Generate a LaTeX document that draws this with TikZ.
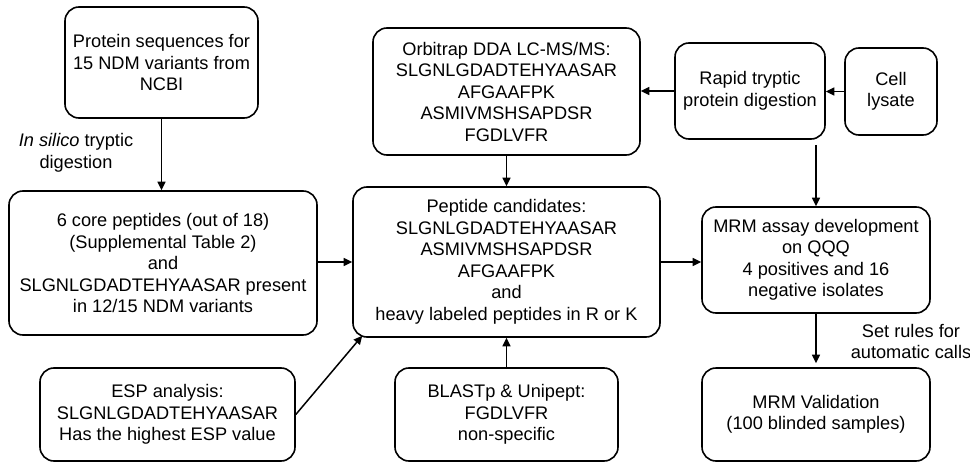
\documentclass[tikz,border=0pt]{standalone}
\usepackage{fontspec}
\setmainfont{Liberation Sans}
\usepackage{tikz}
\usetikzlibrary{arrows.meta,positioning,calc}

\begin{document}
\begin{tikzpicture}[x=1pt, y=-1pt,
  font=\fontsize{18.2}{21.5}\selectfont,
  box/.style={draw, line width=1.6pt, rounded corners=14pt, align=center, inner sep=0pt},
  flow/.style={line width=1.5pt, -{Triangle[length=8.5pt, width=8pt]}}]
\useasboundingbox (0,0) rectangle (970,463);

% left column
\node[box, minimum width=193pt, minimum height=111pt] (ncbi) at (161.5,62.5)
  {Protein sequences for\\15 NDM variants from\\NCBI};
\node[box, minimum width=308pt, minimum height=144pt] (core) at (163,263)
  {6 core peptides (out of 18)\\(Supplemental Table 2)\\and\\SLGNLGDADTEHYAASAR present\\in 12/15 NDM variants};
\node[box, minimum width=255pt, minimum height=93pt] (esp) at (167.5,414.5)
  {ESP analysis:\\SLGNLGDADTEHYAASAR\\Has the highest ESP value};
\node[align=center] (insilico) at (76,153) {\textit{In silico} tryptic\\digestion};

% middle column
\node[box, minimum width=267pt, minimum height=127pt] (orbi) at (506.5,91.5)
  {Orbitrap DDA LC-MS/MS:\\SLGNLGDADTEHYAASAR\\AFGAAFPK\\ASMIVMSHSAPDSR\\FGDLVFR};
\node[box, minimum width=307pt, minimum height=150pt] (cand) at (506.5,262)
  {Peptide candidates:\\SLGNLGDADTEHYAASAR\\ASMIVMSHSAPDSR\\AFGAAFPK\\and\\heavy labeled peptides in R or K};
\node[box, minimum width=223pt, minimum height=93pt] (blast) at (506.5,414.5)
  {BLASTp \& Unipept:\\FGDLVFR\\non-specific};

% right column
\node[box, minimum width=150pt, minimum height=96pt] (rapid) at (750,91)
  {Rapid tryptic\\protein digestion};
\node[box, minimum width=92pt, minimum height=87pt] (lysate) at (891,91.5)
  {Cell\\lysate};
\node[box, minimum width=228pt, minimum height=106pt] (mrm) at (816,260)
  {MRM assay development\\on QQQ\\4 positives and 16\\negative isolates};
\node[box, minimum width=228pt, minimum height=93pt] (valid) at (816,414.5)
  {MRM Validation\\(100 blinded samples)};
\node[align=center] (rules) at (911,341.5) {Set rules for\\automatic calls};

% connectors
\draw[flow] (ncbi.south) -- (ncbi.south |- core.north);
\draw[flow] (core.east |- cand.west) -- (cand.west);
\draw[flow] (esp.east) -- ([xshift=10pt, yshift=2pt]cand.south west);
\draw[flow] (orbi.south) -- (cand.north);
\draw[flow] (blast.north) -- (cand.south);
\draw[flow] (cand.east) -- (mrm.west |- cand.east);
\draw[flow] (lysate.west) -- (rapid.east |- lysate.west);
\draw[flow] (rapid.west) -- (orbi.east |- rapid.west);
\draw[flow] ($(mrm.north |- rapid.south)+(0,5)$) -- (mrm.north);
\draw[flow, shorten >=4pt] (mrm.south) -- (valid.north);
\end{tikzpicture}
\end{document}
